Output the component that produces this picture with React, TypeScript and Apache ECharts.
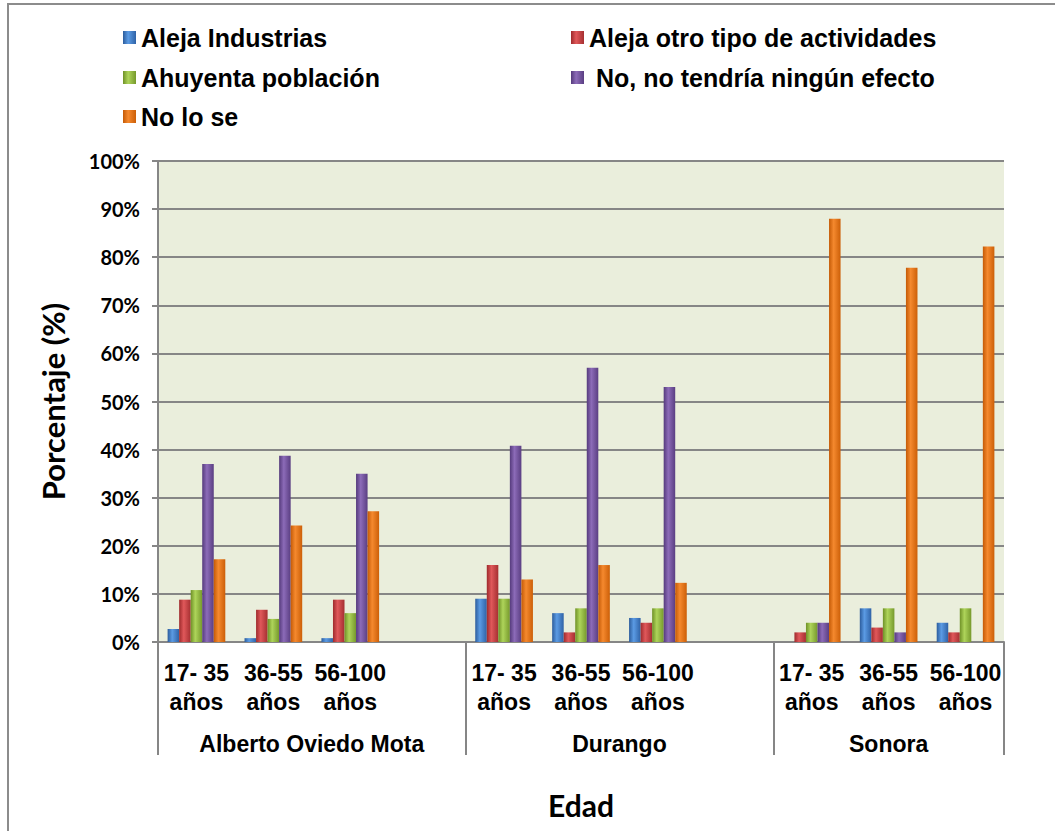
import React, { useEffect, useRef } from "react";
import * as echarts from "echarts";

const groups = ["Alberto Oviedo Mota", "Durango", "Sonora"];
const ages = ["17- 35\naños", "36-55\naños", "56-100\naños"];
const yTicks = [0, 10, 20, 30, 40, 50, 60, 70, 80, 90, 100];

const seriesNames = [
  "Aleja Industrias",
  "Aleja otro tipo de actividades",
  "Ahuyenta población",
  " No, no tendría ningún efecto",
  "No lo se",
];

// values per group (3 ages each): Alberto Oviedo Mota, Durango, Sonora
const alejaIndustrias = [2.7, 0.8, 0.8, 9, 6, 5, 0, 7, 4];
const alejaOtro = [8.8, 6.7, 8.8, 16, 2, 4, 2, 3, 2];
const ahuyenta = [10.8, 4.8, 6, 9, 7, 7, 4, 7, 7];
const noEfecto = [37, 38.7, 35, 40.8, 57, 53, 4, 2, 0];
const noLoSe = [17.2, 24.2, 27.2, 13, 16, 12.3, 88, 77.8, 82.2];

const seriesValues = [alejaIndustrias, alejaOtro, ahuyenta, noEfecto, noLoSe];

const colorSets = [
  ["#2c5c9c", "#5b9be4", "#2f62a6"],
  ["#9e2a2c", "#e0585a", "#a52f31"],
  ["#6f9127", "#aed45a", "#76992c"],
  ["#553a7c", "#8c6bb8", "#5a3e82"],
  ["#c45a06", "#f5892e", "#cc5f08"],
];

export default function App() {
  const ref = useRef<HTMLDivElement>(null);
  useEffect(() => {
    document.body.style.margin = "0";
    if (!ref.current) return;
    const chart = echarts.init(ref.current, undefined, { renderer: "svg" });

    const categories: string[] = [];
    const slotIndex: number[] = [];
    const groupBounds: number[] = [0];
    groups.forEach((g, gi) => {
      ages.forEach((a) => {
        slotIndex.push(categories.length);
        categories.push(a);
      });
      if (gi < groups.length - 1) categories.push("");
      groupBounds.push(categories.length);
    });
    const groupCenters = groups.map((g, gi) => (groupBounds[gi] + groupBounds[gi + 1]) / 2);

    const series = seriesNames.map((name, si) => {
      const data: (number | null)[] = categories.map(() => null);
      seriesValues[si].forEach((v, k) => {
        data[slotIndex[k]] = v;
      });
      const c = colorSets[si];
      return {
        name,
        type: "bar",
        data,
        barGap: "0%",
        barCategoryGap: "25%",
        itemStyle: {
          color: new echarts.graphic.LinearGradient(0, 0, 1, 0, [
            { offset: 0, color: c[0] },
            { offset: 0.4, color: c[1] },
            { offset: 1, color: c[2] },
          ]),
        },
      };
    });

    const legendPos = [
      { left: 123, top: 24 },
      { left: 571, top: 24 },
      { left: 123, top: 64 },
      { left: 571, top: 64 },
      { left: 123, top: 103 },
    ];

    const legendFont = {
      fontFamily: "'Liberation Sans', Arial, sans-serif",
      fontWeight: "bold",
      fontSize: 25,
      color: "#000",
      lineHeight: 27,
    };

    chart.setOption({
      animation: false,
      backgroundColor: "#fff",
      graphic: [
        {
          type: "rect",
          shape: { x: 8, y: 4, width: 1080, height: 860 },
          style: { fill: "none", stroke: "#8c8c8c", lineWidth: 2 },
          silent: true,
        },
      ],
      legend: seriesNames.map((n, i) => ({
        data: [n],
        left: legendPos[i].left,
        top: legendPos[i].top,
        padding: 0,
        icon: "rect",
        itemWidth: 13,
        itemHeight: 13,
        selectedMode: false,
        textStyle: legendFont,
      })),
      grid: {
        left: 158,
        top: 161,
        right: 51,
        bottom: 189,
        show: true,
        backgroundColor: "#eaeedc",
        borderWidth: 0,
      },
      xAxis: [
        {
          type: "category",
          data: categories,
          axisLine: { show: true, lineStyle: { color: "#868686", width: 2 } },
          axisTick: { show: false },
          axisLabel: {
            interval: 0,
            margin: 16,
            fontFamily: "'Liberation Sans', Arial, sans-serif",
            fontWeight: "bold",
            fontSize: 23,
            lineHeight: 29,
            color: "#000",
          },
        },
        {
          type: "value",
          min: 0,
          max: categories.length,
          position: "bottom",
          axisLine: { show: false },
          splitLine: { show: false },
          axisTick: {
            show: true,
            customValues: groupBounds,
            length: 113,
            lineStyle: { color: "#868686", width: 2 },
          },
          axisLabel: {
            customValues: groupCenters,
            margin: 90,
            fontFamily: "'Liberation Sans', Arial, sans-serif",
            fontWeight: "bold",
            fontSize: 23,
            color: "#000",
            formatter: (v: number) => {
              const i = groupCenters.findIndex((c) => Math.abs(c - v) < 1e-6);
              return i >= 0 ? groups[i] : "";
            },
          },
          name: "Edad",
          nameLocation: "middle",
          nameGap: 148,
          nameTextStyle: {
            fontFamily: "Lato, 'Open Sans', sans-serif",
            fontWeight: "bold",
            fontSize: 30,
            color: "#000",
          },
        },
      ],
      yAxis: {
        type: "value",
        min: 0,
        max: 100,
        interval: 10,
        axisLine: { show: true, lineStyle: { color: "#868686", width: 2 } },
        axisTick: { show: true, length: 6, lineStyle: { color: "#868686", width: 2 } },
        splitLine: { show: true, lineStyle: { color: "#868686", width: 2 } },
        axisLabel: {
          margin: 18,
          fontFamily: "Lato, 'Open Sans', sans-serif",
          fontWeight: "bold",
          fontSize: 20,
          color: "#000",
          formatter: (v: number) => (yTicks.includes(v) ? v + "%" : ""),
        },
        name: "Porcentaje (%)",
        nameLocation: "middle",
        nameRotate: 90,
        nameGap: 90,
        nameTextStyle: {
          fontFamily: "Lato, 'Open Sans', sans-serif",
          fontWeight: "bold",
          fontSize: 31,
          color: "#000",
        },
      },
      series,
    });
    return () => chart.dispose();
  }, []);
  return <div ref={ref} style={{ width: 1055, height: 831 }} />;
}
